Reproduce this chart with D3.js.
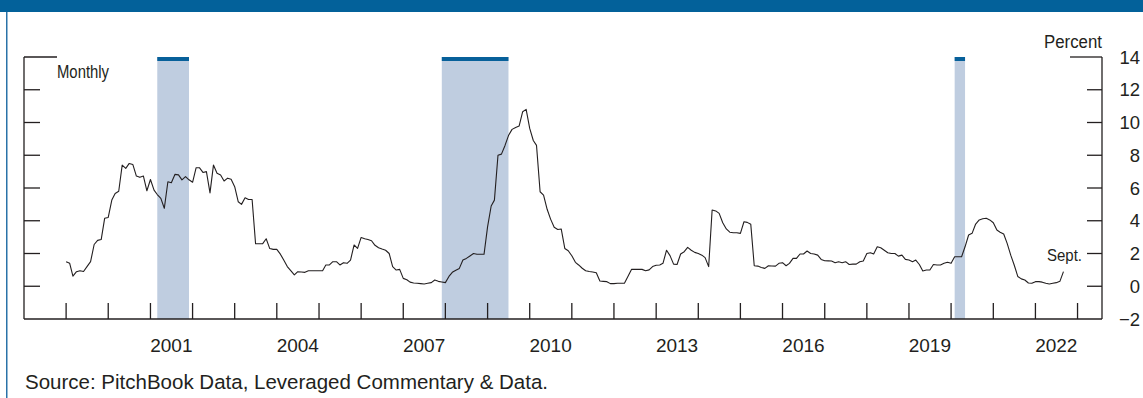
<!DOCTYPE html>
<html><head><meta charset="utf-8">
<script src="https://cdn.jsdelivr.net/npm/d3@7"></script>
<style>body{margin:0;background:#fff} svg{display:block}</style>
</head><body>
<svg id="chart" width="1143" height="398"></svg>
<script>
// ---- data ----
const startMonth = "1999-01-01";
const spreadValues = [
  1.5, 1.4, 0.62, 0.89, 0.95, 0.9, 1.2, 1.5, 2.55, 2.8, 2.85, 4.15,        // 1999
  4.2, 5.26, 5.67, 5.8, 7.4, 7.2, 7.5, 7.44, 6.73, 6.65, 6.73, 5.83,       // 2000
  6.52, 5.87, 5.6, 5.37, 4.76, 6.38, 6.32, 6.83, 6.8, 6.5, 6.7, 6.5,       // 2001
  6.35, 7.24, 7.24, 6.95, 7.0, 5.7, 7.4, 6.9, 6.8, 6.43, 6.6, 6.53,        // 2002
  6.08, 5.16, 5.0, 5.4, 5.3, 5.3, 2.6, 2.6, 2.6, 2.9, 2.3, 2.25,           // 2003
  2.25, 1.96, 1.6, 1.2, 0.95, 0.69, 0.89, 0.87, 0.85, 0.95, 0.95, 0.95,    // 2004
  0.95, 0.95, 1.3, 1.3, 1.5, 1.5, 1.3, 1.44, 1.4, 1.6, 2.52, 2.31,         // 2005
  2.98, 2.9, 2.85, 2.78, 2.5, 2.35, 2.27, 2.2, 2.0, 1.2, 0.99, 1.03,       // 2006
  0.48, 0.4, 0.25, 0.2, 0.18, 0.16, 0.14, 0.18, 0.22, 0.38, 0.3, 0.26,     // 2007
  0.22, 0.6, 0.85, 0.98, 1.09, 1.6, 1.7, 1.85, 2.0, 1.95, 1.95, 1.95,      // 2008
  3.64, 4.9, 5.26, 8.0, 8.07, 8.6, 9.2, 9.58, 9.7, 9.78, 10.66, 10.8,      // 2009
  9.64, 8.9, 8.6, 5.77, 5.57, 4.7, 4.1, 3.6, 3.47, 3.5, 2.31, 2.17,        // 2010
  1.86, 1.46, 1.3, 1.1, 0.95, 0.9, 0.87, 0.82, 0.32, 0.3, 0.28, 0.16,      // 2011
  0.16, 0.18, 0.18, 0.18, 0.59, 1.03, 1.03, 1.03, 1.03, 0.95, 1.0, 1.2,    // 2012
  1.28, 1.3, 1.4, 2.2, 1.87, 1.35, 1.33, 1.97, 2.11, 2.37, 2.2, 2.07,      // 2013
  2.0, 1.9, 1.75, 1.2, 4.66, 4.6, 4.45, 3.88, 3.5, 3.3, 3.27, 3.27,        // 2014
  3.23, 3.94, 3.9, 3.78, 1.25, 1.23, 1.15, 1.09, 1.25, 1.24, 1.23, 1.4,    // 2015
  1.44, 1.25, 1.4, 1.7, 1.7, 1.97, 1.97, 2.15, 2.0, 1.97, 1.9, 1.64,       // 2016
  1.56, 1.55, 1.54, 1.44, 1.5, 1.44, 1.5, 1.33, 1.35, 1.35, 1.5, 1.54,     // 2017
  2.0, 2.05, 1.97, 2.41, 2.35, 2.2, 2.05, 2.0, 2.0, 1.84, 1.9, 1.64,       // 2018
  1.6, 1.5, 1.6, 1.33, 0.93, 0.99, 0.99, 1.33, 1.3, 1.3, 1.4, 1.46,        // 2019
  1.4, 1.8, 1.8, 1.8, 2.41, 3.13, 3.23, 3.8, 4.05, 4.12, 4.15, 4.05,       // 2020
  3.88, 3.43, 3.3, 3.19, 2.62, 1.9, 1.3, 0.6, 0.45, 0.38, 0.2, 0.18,       // 2021
  0.28, 0.28, 0.25, 0.18, 0.14, 0.18, 0.22, 0.3, 0.89                      // 2022 (to Sept.)
];
const recessionStarts = ["2001-03-01", "2007-12-01", "2020-02-01"];
const recessionEnds   = ["2001-12-01", "2009-07-01", "2020-05-01"];
const yTicks = [-2, 0, 2, 4, 6, 8, 10, 12, 14];
const yearLabels = [2001, 2004, 2007, 2010, 2013, 2016, 2019, 2022];
const firstTickYear = 1999, lastTickYear = 2023;

// ---- layout ----
const svg = d3.select("#chart");
const L = 24, R = 1102, T = 57, B = 319;
const ink = "#231f20";
const parse = d3.utcParse("%Y-%m-%d");
const x = d3.scaleUtc().domain([parse("1998-01-01"), parse("2023-08-01")]).range([L, R]);
const y = d3.scaleLinear().domain([-2, 14]).range([B, T]);

// banner and left rule
svg.append("rect").attr("x", 0).attr("y", 0).attr("width", 1143).attr("height", 12).attr("fill", "#03619a");
svg.append("rect").attr("x", 6).attr("y", 12).attr("width", 1.5).attr("height", 386).attr("fill", "#2a72a8");

// recession bands
const rec = recessionStarts.map((s, i) => ({ s: parse(s), e: parse(recessionEnds[i]) }));
svg.append("g").selectAll("rect").data(rec).join("rect")
  .attr("x", d => x(d.s)).attr("width", d => x(d.e) - x(d.s))
  .attr("y", T).attr("height", B - T).attr("fill", "#bfcde0");
svg.append("g").selectAll("rect").data(rec).join("rect")
  .attr("x", d => x(d.s)).attr("width", d => x(d.e) - x(d.s))
  .attr("y", T).attr("height", 4).attr("fill", "#07609a");

// axes frame
const axisG = svg.append("g").attr("stroke", ink).attr("stroke-width", 1.3).attr("fill", "none");
axisG.append("line").attr("x1", L).attr("x2", L).attr("y1", T).attr("y2", B);
axisG.append("line").attr("x1", R).attr("x2", R).attr("y1", T).attr("y2", B);
axisG.append("line").attr("x1", L).attr("x2", R).attr("y1", B).attr("y2", B);

// y ticks (left inward, right inward)
const innerTicks = yTicks.filter(v => v > -2);
axisG.selectAll(".lt").data(innerTicks).join("line")
  .attr("x1", L).attr("x2", v => v === 14 ? L + 33 : L + 16)
  .attr("y1", v => y(v)).attr("y2", v => y(v));
axisG.selectAll(".rt").data(innerTicks).join("line")
  .attr("x1", v => v === 14 ? R - 32 : R - 15).attr("x2", R)
  .attr("y1", v => y(v)).attr("y2", v => y(v));

// y tick labels on right
svg.append("g").selectAll("text").data(yTicks).join("text")
  .attr("x", 1140).attr("y", v => y(v) + 6.5)
  .attr("text-anchor", "end")
  .attr("font-family", "Liberation Sans, Arial, sans-serif").attr("font-size", 18.5)
  .attr("fill", ink)
  .text(v => v < 0 ? "\u2212" + Math.abs(v) : v);

// x ticks at year starts
const tickYears = d3.range(firstTickYear, lastTickYear + 1);
axisG.selectAll(".xt").data(tickYears).join("line")
  .attr("x1", yr => x(Date.UTC(yr, 0, 1))).attr("x2", yr => x(Date.UTC(yr, 0, 1)))
  .attr("y1", B - 16).attr("y2", B);

// year labels centred mid-year
svg.append("g").selectAll("text").data(yearLabels).join("text")
  .attr("x", yr => x(Date.UTC(yr, 6, 1))).attr("y", 352)
  .attr("text-anchor", "middle")
  .attr("font-family", "Liberation Sans, Arial, sans-serif").attr("font-size", 19)
  .attr("fill", ink)
  .text(d => d);

// series line
const start = parse(startMonth);
const series = spreadValues.map((v, i) => ({ date: d3.utcMonth.offset(start, i), value: v }));
svg.append("path").datum(series)
  .attr("fill", "none").attr("stroke", ink).attr("stroke-width", 1.1).attr("stroke-linejoin", "round")
  .attr("d", d3.line().x(d => x(d.date)).y(d => y(d.value)));

// annotations
const narrow = "Liberation Sans Narrow, Arial Narrow, Liberation Sans, Arial, sans-serif";
svg.append("text").attr("x", R).attr("y", 48).attr("text-anchor", "end")
  .attr("font-family", narrow).attr("font-size", 18).attr("fill", ink)
  .attr("textLength", 58).attr("lengthAdjust", "spacingAndGlyphs").text("Percent");
svg.append("text").attr("x", 57).attr("y", 78)
  .attr("font-family", narrow).attr("font-size", 18).attr("fill", ink)
  .attr("textLength", 52).attr("lengthAdjust", "spacingAndGlyphs").text("Monthly");
svg.append("text").attr("x", 1082).attr("y", 261).attr("text-anchor", "end")
  .attr("font-family", narrow).attr("font-size", 17).attr("fill", ink)
  .attr("textLength", 35).attr("lengthAdjust", "spacingAndGlyphs").text("Sept.");

// source
svg.append("text").attr("x", 25).attr("y", 389)
  .attr("font-family", "Liberation Sans, Arial, sans-serif").attr("font-size", 20.5).attr("fill", ink)
  .text("Source: PitchBook Data, Leveraged Commentary & Data.");
</script>
</body></html>
